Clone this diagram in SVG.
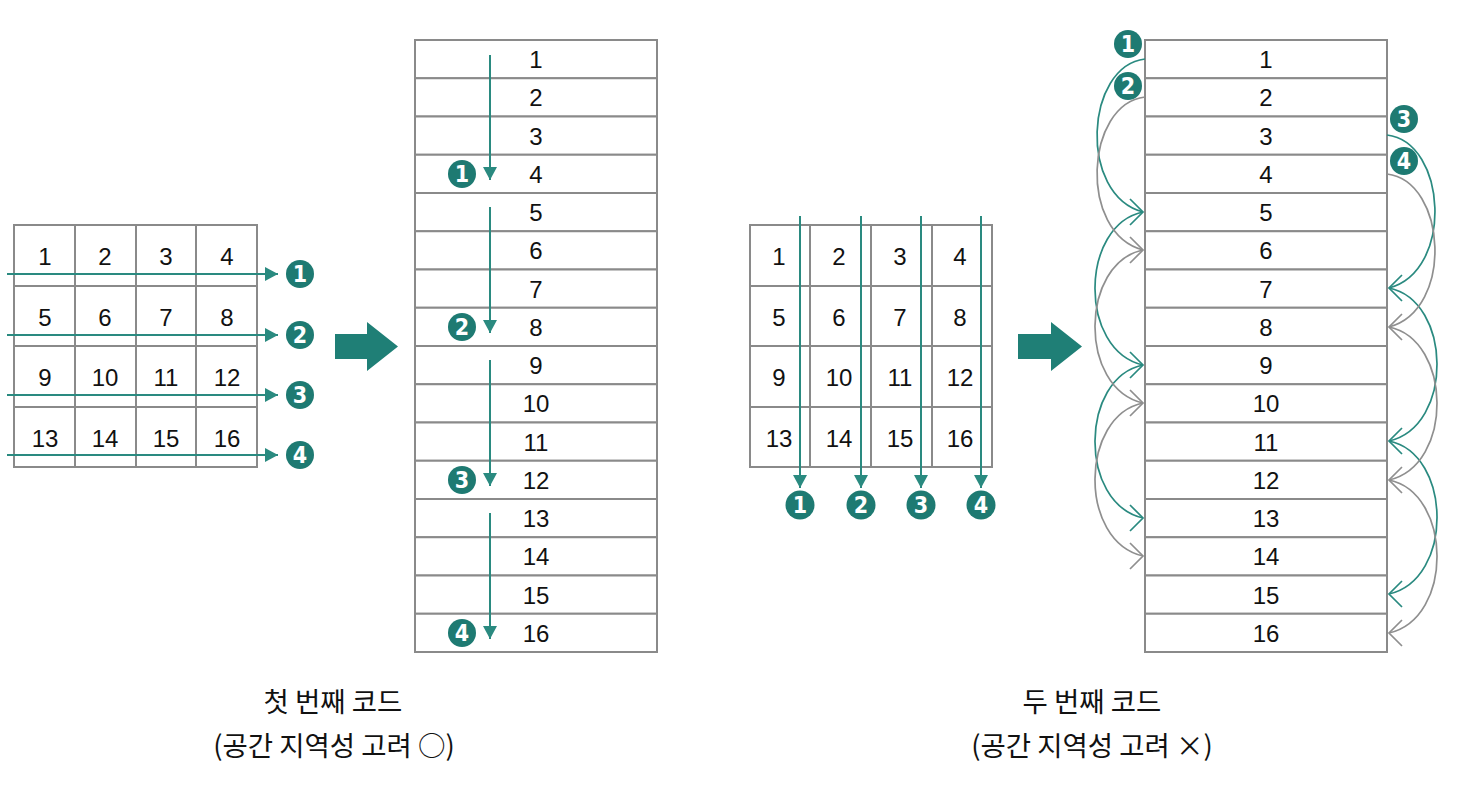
<svg xmlns="http://www.w3.org/2000/svg" width="1464" height="786" viewBox="0 0 1464 786">
<style>
.cell{fill:#fff;stroke:#8a8a8a;stroke-width:2}
.num{font-family:"Liberation Sans",Arial,sans-serif;font-size:24px;fill:#111;text-anchor:middle}
.badge circle{fill:#1e7a72}
.badge text{font-family:"DejaVu Sans Condensed","DejaVu Sans",sans-serif;font-weight:bold;font-size:23px;fill:#fff;text-anchor:middle}
.st{stroke:#2a8a80;stroke-width:2;fill:none}
.tl{stroke:#2a8a80;stroke-width:1.7;fill:none}
.gr{stroke:#8f8f8f;stroke-width:1.7;fill:none}
.big{fill:#1f7f76}
.lab{font-family:"Noto Sans CJK KR","Noto Sans",sans-serif;font-size:27.5px;fill:#111;text-anchor:middle}
</style>
<defs>
<marker id="tri" markerUnits="userSpaceOnUse" markerWidth="16" markerHeight="16" viewBox="-14 -8 16 16" refX="0" refY="0" orient="auto">
<path d="M-13,-7 L0,0 L-13,7 Z" fill="#2a8a80"/>
</marker>
<marker id="chevTR" markerUnits="userSpaceOnUse" markerWidth="20" markerHeight="30" viewBox="-16 -15 20 30" refX="0" refY="0" orient="0">
<path d="M-13,-13 L0,0 L-13,13" fill="none" stroke="#2a8a80" stroke-width="1.7"/>
</marker>
<marker id="chevGR" markerUnits="userSpaceOnUse" markerWidth="20" markerHeight="30" viewBox="-16 -15 20 30" refX="0" refY="0" orient="0">
<path d="M-13,-13 L0,0 L-13,13" fill="none" stroke="#8f8f8f" stroke-width="1.7"/>
</marker>
<marker id="chevTL" markerUnits="userSpaceOnUse" markerWidth="20" markerHeight="30" viewBox="-16 -15 20 30" refX="0" refY="0" orient="180">
<path d="M-13,-13 L0,0 L-13,13" fill="none" stroke="#2a8a80" stroke-width="1.7"/>
</marker>
<marker id="chevGL" markerUnits="userSpaceOnUse" markerWidth="20" markerHeight="30" viewBox="-16 -15 20 30" refX="0" refY="0" orient="180">
<path d="M-13,-13 L0,0 L-13,13" fill="none" stroke="#8f8f8f" stroke-width="1.7"/>
</marker>
</defs>

<g id="grid-left">
<rect class="cell" x="14" y="225" width="61" height="61"/><rect class="cell" x="75" y="225" width="61" height="61"/><rect class="cell" x="136" y="225" width="60" height="61"/><rect class="cell" x="196" y="225" width="61" height="61"/>
<rect class="cell" x="14" y="286" width="61" height="60"/><rect class="cell" x="75" y="286" width="61" height="60"/><rect class="cell" x="136" y="286" width="60" height="60"/><rect class="cell" x="196" y="286" width="61" height="60"/>
<rect class="cell" x="14" y="346" width="61" height="61"/><rect class="cell" x="75" y="346" width="61" height="61"/><rect class="cell" x="136" y="346" width="60" height="61"/><rect class="cell" x="196" y="346" width="61" height="61"/>
<rect class="cell" x="14" y="407" width="61" height="60"/><rect class="cell" x="75" y="407" width="61" height="60"/><rect class="cell" x="136" y="407" width="60" height="60"/><rect class="cell" x="196" y="407" width="61" height="60"/>
<text class="num" x="45" y="265">1</text><text class="num" x="105" y="265">2</text><text class="num" x="166" y="265">3</text><text class="num" x="227" y="265">4</text>
<text class="num" x="45" y="326">5</text><text class="num" x="105" y="326">6</text><text class="num" x="166" y="326">7</text><text class="num" x="227" y="326">8</text>
<text class="num" x="45" y="386">9</text><text class="num" x="105" y="386">10</text><text class="num" x="166" y="386">11</text><text class="num" x="227" y="386">12</text>
<text class="num" x="45" y="447">13</text><text class="num" x="105" y="447">14</text><text class="num" x="166" y="447">15</text><text class="num" x="227" y="447">16</text>
</g>

<g id="grid-right">
<rect class="cell" x="750" y="225" width="60" height="61"/><rect class="cell" x="810" y="225" width="61" height="61"/><rect class="cell" x="871" y="225" width="61" height="61"/><rect class="cell" x="932" y="225" width="60" height="61"/>
<rect class="cell" x="750" y="286" width="60" height="60"/><rect class="cell" x="810" y="286" width="61" height="60"/><rect class="cell" x="871" y="286" width="61" height="60"/><rect class="cell" x="932" y="286" width="60" height="60"/>
<rect class="cell" x="750" y="346" width="60" height="61"/><rect class="cell" x="810" y="346" width="61" height="61"/><rect class="cell" x="871" y="346" width="61" height="61"/><rect class="cell" x="932" y="346" width="60" height="61"/>
<rect class="cell" x="750" y="407" width="60" height="60"/><rect class="cell" x="810" y="407" width="61" height="60"/><rect class="cell" x="871" y="407" width="61" height="60"/><rect class="cell" x="932" y="407" width="60" height="60"/>
<text class="num" x="779" y="265">1</text><text class="num" x="839" y="265">2</text><text class="num" x="900" y="265">3</text><text class="num" x="960" y="265">4</text>
<text class="num" x="779" y="326">5</text><text class="num" x="839" y="326">6</text><text class="num" x="900" y="326">7</text><text class="num" x="960" y="326">8</text>
<text class="num" x="779" y="386">9</text><text class="num" x="839" y="386">10</text><text class="num" x="900" y="386">11</text><text class="num" x="960" y="386">12</text>
<text class="num" x="779" y="447">13</text><text class="num" x="839" y="447">14</text><text class="num" x="900" y="447">15</text><text class="num" x="960" y="447">16</text>
</g>

<g id="column-mid">
<rect class="cell" x="415" y="40" width="242" height="38.25"/><rect class="cell" x="415" y="78.25" width="242" height="38.25"/><rect class="cell" x="415" y="116.5" width="242" height="38.25"/><rect class="cell" x="415" y="154.75" width="242" height="38.25"/>
<rect class="cell" x="415" y="193" width="242" height="38.25"/><rect class="cell" x="415" y="231.25" width="242" height="38.25"/><rect class="cell" x="415" y="269.5" width="242" height="38.25"/><rect class="cell" x="415" y="307.75" width="242" height="38.25"/>
<rect class="cell" x="415" y="346" width="242" height="38.25"/><rect class="cell" x="415" y="384.25" width="242" height="38.25"/><rect class="cell" x="415" y="422.5" width="242" height="38.25"/><rect class="cell" x="415" y="460.75" width="242" height="38.25"/>
<rect class="cell" x="415" y="499" width="242" height="38.25"/><rect class="cell" x="415" y="537.25" width="242" height="38.25"/><rect class="cell" x="415" y="575.5" width="242" height="38.25"/><rect class="cell" x="415" y="613.75" width="242" height="38.25"/>
<text class="num" x="536" y="68">1</text><text class="num" x="536" y="106">2</text><text class="num" x="536" y="145">3</text><text class="num" x="536" y="183">4</text>
<text class="num" x="536" y="221">5</text><text class="num" x="536" y="259">6</text><text class="num" x="536" y="298">7</text><text class="num" x="536" y="336">8</text>
<text class="num" x="536" y="374">9</text><text class="num" x="536" y="412">10</text><text class="num" x="536" y="451">11</text><text class="num" x="536" y="489">12</text>
<text class="num" x="536" y="527">13</text><text class="num" x="536" y="565">14</text><text class="num" x="536" y="604">15</text><text class="num" x="536" y="642">16</text>
</g>

<g id="column-right">
<rect class="cell" x="1145" y="40" width="242" height="38.25"/><rect class="cell" x="1145" y="78.25" width="242" height="38.25"/><rect class="cell" x="1145" y="116.5" width="242" height="38.25"/><rect class="cell" x="1145" y="154.75" width="242" height="38.25"/>
<rect class="cell" x="1145" y="193" width="242" height="38.25"/><rect class="cell" x="1145" y="231.25" width="242" height="38.25"/><rect class="cell" x="1145" y="269.5" width="242" height="38.25"/><rect class="cell" x="1145" y="307.75" width="242" height="38.25"/>
<rect class="cell" x="1145" y="346" width="242" height="38.25"/><rect class="cell" x="1145" y="384.25" width="242" height="38.25"/><rect class="cell" x="1145" y="422.5" width="242" height="38.25"/><rect class="cell" x="1145" y="460.75" width="242" height="38.25"/>
<rect class="cell" x="1145" y="499" width="242" height="38.25"/><rect class="cell" x="1145" y="537.25" width="242" height="38.25"/><rect class="cell" x="1145" y="575.5" width="242" height="38.25"/><rect class="cell" x="1145" y="613.75" width="242" height="38.25"/>
<text class="num" x="1266" y="68">1</text><text class="num" x="1266" y="106">2</text><text class="num" x="1266" y="145">3</text><text class="num" x="1266" y="183">4</text>
<text class="num" x="1266" y="221">5</text><text class="num" x="1266" y="259">6</text><text class="num" x="1266" y="298">7</text><text class="num" x="1266" y="336">8</text>
<text class="num" x="1266" y="374">9</text><text class="num" x="1266" y="412">10</text><text class="num" x="1266" y="451">11</text><text class="num" x="1266" y="489">12</text>
<text class="num" x="1266" y="527">13</text><text class="num" x="1266" y="565">14</text><text class="num" x="1266" y="604">15</text><text class="num" x="1266" y="642">16</text>
</g>

<g id="connectors">
<line class="st" x1="7" y1="274" x2="278" y2="274" marker-end="url(#tri)"/>
<line class="st" x1="7" y1="335" x2="278" y2="335" marker-end="url(#tri)"/>
<line class="st" x1="7" y1="395" x2="278" y2="395" marker-end="url(#tri)"/>
<line class="st" x1="7" y1="455" x2="278" y2="455" marker-end="url(#tri)"/>
<line class="st" x1="490" y1="55" x2="490" y2="180" marker-end="url(#tri)"/>
<line class="st" x1="490" y1="207" x2="490" y2="333" marker-end="url(#tri)"/>
<line class="st" x1="490" y1="360" x2="490" y2="486" marker-end="url(#tri)"/>
<line class="st" x1="490" y1="513" x2="490" y2="639" marker-end="url(#tri)"/>
<line class="st" x1="800" y1="216" x2="800" y2="488" marker-end="url(#tri)"/>
<line class="st" x1="861" y1="216" x2="861" y2="488" marker-end="url(#tri)"/>
<line class="st" x1="921" y1="216" x2="921" y2="488" marker-end="url(#tri)"/>
<line class="st" x1="981" y1="216" x2="981" y2="488" marker-end="url(#tri)"/>

<path class="tl" d="M1145,59 C1085,66 1078,195 1143,212" marker-end="url(#chevTR)"/>
<path class="tl" d="M1143,212 C1080,225 1078,350 1143,365" marker-end="url(#chevTR)"/>
<path class="tl" d="M1143,365 C1080,378 1078,503 1143,518" marker-end="url(#chevTR)"/>
<path class="gr" d="M1145,97 C1085,104 1078,233 1143,250" marker-end="url(#chevGR)"/>
<path class="gr" d="M1143,250 C1080,263 1078,388 1143,403" marker-end="url(#chevGR)"/>
<path class="gr" d="M1143,403 C1080,416 1078,541 1143,556" marker-end="url(#chevGR)"/>

<path class="tl" d="M1387,135 C1447,142 1454,271 1389,288" marker-end="url(#chevTL)"/>
<path class="tl" d="M1389,288 C1452,301 1454,426 1389,441" marker-end="url(#chevTL)"/>
<path class="tl" d="M1389,441 C1452,454 1454,579 1389,594" marker-end="url(#chevTL)"/>
<path class="gr" d="M1387,174 C1447,181 1454,310 1389,327" marker-end="url(#chevGL)"/>
<path class="gr" d="M1389,327 C1452,340 1454,465 1389,480" marker-end="url(#chevGL)"/>
<path class="gr" d="M1389,480 C1452,493 1454,618 1389,633" marker-end="url(#chevGL)"/>
</g>

<g id="big-arrows">
<polygon class="big" points="335,334 367,334 367,322 398,346.5 367,371 367,359 335,359"/>
<polygon class="big" points="1018,334 1051,334 1051,322 1082,346.5 1051,371 1051,359 1018,359"/>
</g>

<g id="badges" class="badge">
<g id="b-l1"><circle cx="300" cy="274" r="14"/><text x="300" y="282">1</text></g>
<g id="b-l2"><circle cx="300" cy="335" r="14"/><text x="300" y="343">2</text></g>
<g id="b-l3"><circle cx="300" cy="395" r="14"/><text x="300" y="403">3</text></g>
<g id="b-l4"><circle cx="300" cy="455" r="14"/><text x="300" y="463">4</text></g>
<g id="b-m1"><circle cx="462" cy="174" r="14"/><text x="462" y="182">1</text></g>
<g id="b-m2"><circle cx="462" cy="327" r="14"/><text x="462" y="335">2</text></g>
<g id="b-m3"><circle cx="462" cy="480" r="14"/><text x="462" y="488">3</text></g>
<g id="b-m4"><circle cx="462" cy="633" r="14"/><text x="462" y="641">4</text></g>
<g id="b-g1"><circle cx="800" cy="505" r="14.5"/><text x="800" y="513">1</text></g>
<g id="b-g2"><circle cx="861" cy="505" r="14.5"/><text x="861" y="513">2</text></g>
<g id="b-g3"><circle cx="921" cy="505" r="14.5"/><text x="921" y="513">3</text></g>
<g id="b-g4"><circle cx="981" cy="505" r="14.5"/><text x="981" y="513">4</text></g>
<g id="b-r1"><circle cx="1128" cy="44" r="14"/><text x="1128" y="52">1</text></g>
<g id="b-r2"><circle cx="1128" cy="86" r="14"/><text x="1128" y="94">2</text></g>
<g id="b-r3"><circle cx="1404" cy="119" r="14"/><text x="1404" y="127">3</text></g>
<g id="b-r4"><circle cx="1404" cy="161" r="14"/><text x="1404" y="169">4</text></g>
</g>

<g id="labels">
<text class="lab" x="333" y="712">첫 번째 코드</text>
<text class="lab" x="334" y="756">(공간 지역성 고려 ○)</text>
<text class="lab" x="1092" y="712">두 번째 코드</text>
<text class="lab" x="1092" y="756">(공간 지역성 고려 ×)</text>
</g>
</svg>
